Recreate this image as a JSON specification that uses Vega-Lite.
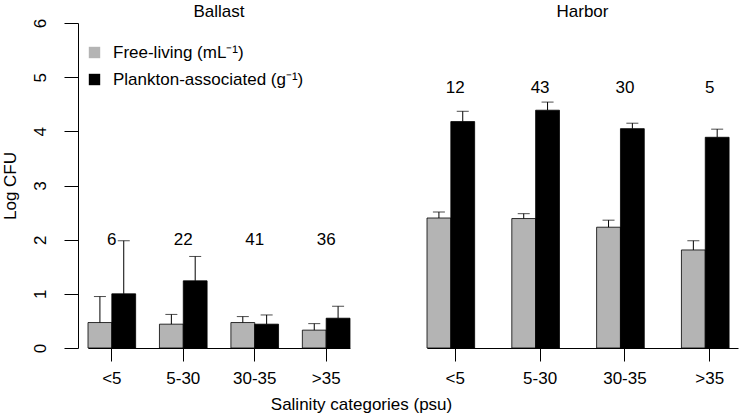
{
  "$schema": "https://vega.github.io/schema/vega-lite/v6.json",
  "padding": {"left": 1, "top": 3, "right": 4, "bottom": 5},
  "bounds": "flush",
  "config": {
    "font": "Liberation Sans",
    "view": {"stroke": null},
    "axis": {"domainColor": "black", "tickColor": "black", "labelColor": "black", "titleColor": "black", "grid": false, "labelFontSize": 17, "titleFontSize": 17, "titleFontWeight": "normal"},
    "title": {"fontSize": 17, "fontWeight": "normal", "color": "black", "anchor": "middle", "frame": "group"}
  },
  "datasets": {
    "bars": [
      {"site": "Ballast", "salinity": "<5", "type": "Free-living (mL⁻¹)", "mean": 0.47, "upper": 0.95},
      {"site": "Ballast", "salinity": "<5", "type": "Plankton-associated (g⁻¹)", "mean": 1.0, "upper": 1.98},
      {"site": "Ballast", "salinity": "5-30", "type": "Free-living (mL⁻¹)", "mean": 0.44, "upper": 0.62},
      {"site": "Ballast", "salinity": "5-30", "type": "Plankton-associated (g⁻¹)", "mean": 1.24, "upper": 1.69},
      {"site": "Ballast", "salinity": "30-35", "type": "Free-living (mL⁻¹)", "mean": 0.47, "upper": 0.58},
      {"site": "Ballast", "salinity": "30-35", "type": "Plankton-associated (g⁻¹)", "mean": 0.44, "upper": 0.61},
      {"site": "Ballast", "salinity": ">35", "type": "Free-living (mL⁻¹)", "mean": 0.33, "upper": 0.45},
      {"site": "Ballast", "salinity": ">35", "type": "Plankton-associated (g⁻¹)", "mean": 0.55, "upper": 0.77},
      {"site": "Harbor", "salinity": "<5", "type": "Free-living (mL⁻¹)", "mean": 2.40, "upper": 2.51},
      {"site": "Harbor", "salinity": "<5", "type": "Plankton-associated (g⁻¹)", "mean": 4.18, "upper": 4.37},
      {"site": "Harbor", "salinity": "5-30", "type": "Free-living (mL⁻¹)", "mean": 2.39, "upper": 2.48},
      {"site": "Harbor", "salinity": "5-30", "type": "Plankton-associated (g⁻¹)", "mean": 4.39, "upper": 4.54},
      {"site": "Harbor", "salinity": "30-35", "type": "Free-living (mL⁻¹)", "mean": 2.23, "upper": 2.36},
      {"site": "Harbor", "salinity": "30-35", "type": "Plankton-associated (g⁻¹)", "mean": 4.05, "upper": 4.15},
      {"site": "Harbor", "salinity": ">35", "type": "Free-living (mL⁻¹)", "mean": 1.81, "upper": 1.98},
      {"site": "Harbor", "salinity": ">35", "type": "Plankton-associated (g⁻¹)", "mean": 3.89, "upper": 4.04}
    ],
    "counts": [
      {"site": "Ballast", "salinity": "<5", "n": "6", "pos": 2.0},
      {"site": "Ballast", "salinity": "5-30", "n": "22", "pos": 2.0},
      {"site": "Ballast", "salinity": "30-35", "n": "41", "pos": 2.0},
      {"site": "Ballast", "salinity": ">35", "n": "36", "pos": 2.0},
      {"site": "Harbor", "salinity": "<5", "n": "12", "pos": 4.8},
      {"site": "Harbor", "salinity": "5-30", "n": "43", "pos": 4.8},
      {"site": "Harbor", "salinity": "30-35", "n": "30", "pos": 4.8},
      {"site": "Harbor", "salinity": ">35", "n": "5", "pos": 4.8}
    ]
  },
  "spacing": 77,
  "hconcat": [
    {
      "title": {"text": "Ballast", "offset": -3},
      "width": 262,
      "height": 325,
      "layer": [
        {
          "data": {"name": "bars"},
          "transform": [{"filter": "datum.site === 'Ballast'"}],
          "mark": {"type": "bar", "stroke": "black", "strokeWidth": 0.8},
          "encoding": {
            "x": {"field": "salinity", "type": "nominal", "sort": ["<5", "5-30", "30-35", ">35"],
                  "scale": {"paddingInner": 0.333, "paddingOuter": 0},
                  "axis": {"labelAngle": 0, "tickSize": 13, "labelPadding": 9, "title": "Salinity categories (psu)", "titleX": 273, "titleY": 61, "titleBaseline": "alphabetic", "titleAnchor": "middle", "titleAlign": "center"}},
            "xOffset": {"field": "type", "type": "nominal", "sort": ["Free-living (mL⁻¹)", "Plankton-associated (g⁻¹)"]},
            "y": {"field": "mean", "type": "quantitative", "scale": {"domain": [0, 6], "nice": false},
                  "axis": {"values": [0, 1, 2, 3, 4, 5, 6], "format": "d", "title": "Log CFU", "offset": 10, "tickSize": 14, "labelAngle": -90, "labelPadding": 15, "titlePadding": 12}},
            "color": {"field": "type", "type": "nominal", "sort": ["Free-living (mL⁻¹)", "Plankton-associated (g⁻¹)"],
                      "scale": {"domain": ["Free-living (mL⁻¹)", "Plankton-associated (g⁻¹)"], "range": ["#b4b4b4", "#000000"]},
                      "legend": {"title": null, "orient": "none", "legendX": -2, "legendY": 21, "symbolType": "square", "symbolSize": 130, "symbolStrokeWidth": 0, "labelFontSize": 17, "labelColor": "black", "labelOffset": 10, "labelLimit": 0, "rowPadding": 9, "padding": 0}}
          }
        },
        {
          "data": {"name": "bars"},
          "transform": [{"filter": "datum.site === 'Ballast'"}],
          "mark": {"type": "rule", "color": "black", "strokeWidth": 1},
          "encoding": {
            "x": {"field": "salinity", "type": "nominal", "sort": ["<5", "5-30", "30-35", ">35"]},
            "xOffset": {"field": "type", "type": "nominal", "sort": ["Free-living (mL⁻¹)", "Plankton-associated (g⁻¹)"]},
            "y": {"field": "mean", "type": "quantitative"},
            "y2": {"field": "upper"}
          }
        },
        {
          "data": {"name": "bars"},
          "transform": [{"filter": "datum.site === 'Ballast'"}],
          "mark": {"type": "tick", "color": "black", "size": 12, "thickness": 1, "orient": "horizontal"},
          "encoding": {
            "x": {"field": "salinity", "type": "nominal", "sort": ["<5", "5-30", "30-35", ">35"]},
            "xOffset": {"field": "type", "type": "nominal", "sort": ["Free-living (mL⁻¹)", "Plankton-associated (g⁻¹)"]},
            "y": {"field": "upper", "type": "quantitative"}
          }
        },
        {
          "data": {"name": "counts"},
          "transform": [{"filter": "datum.site === 'Ballast'"}],
          "mark": {"type": "text", "fontSize": 17, "color": "black", "baseline": "middle"},
          "encoding": {
            "x": {"field": "salinity", "type": "nominal", "sort": ["<5", "5-30", "30-35", ">35"]},
            "y": {"field": "pos", "type": "quantitative"},
            "text": {"field": "n"}
          }
        }
      ]
    },
    {
      "title": {"text": "Harbor", "offset": 2},
      "width": 311,
      "height": 325,
      "layer": [
        {
          "data": {"name": "bars"},
          "transform": [{"filter": "datum.site === 'Harbor'"}],
          "mark": {"type": "bar", "stroke": "black", "strokeWidth": 0.8},
          "encoding": {
            "x": {"field": "salinity", "type": "nominal", "sort": ["<5", "5-30", "30-35", ">35"],
                  "scale": {"paddingInner": 0.333, "paddingOuter": 0},
                  "axis": {"labelAngle": 0, "tickSize": 13, "labelPadding": 9, "title": null}},
            "xOffset": {"field": "type", "type": "nominal", "sort": ["Free-living (mL⁻¹)", "Plankton-associated (g⁻¹)"]},
            "y": {"field": "mean", "type": "quantitative", "scale": {"domain": [0, 6], "nice": false}, "axis": null},
            "color": {"field": "type", "type": "nominal",
                      "scale": {"domain": ["Free-living (mL⁻¹)", "Plankton-associated (g⁻¹)"], "range": ["#b4b4b4", "#000000"]},
                      "legend": null}
          }
        },
        {
          "data": {"name": "bars"},
          "transform": [{"filter": "datum.site === 'Harbor'"}],
          "mark": {"type": "rule", "color": "black", "strokeWidth": 1},
          "encoding": {
            "x": {"field": "salinity", "type": "nominal", "sort": ["<5", "5-30", "30-35", ">35"]},
            "xOffset": {"field": "type", "type": "nominal", "sort": ["Free-living (mL⁻¹)", "Plankton-associated (g⁻¹)"]},
            "y": {"field": "mean", "type": "quantitative"},
            "y2": {"field": "upper"}
          }
        },
        {
          "data": {"name": "bars"},
          "transform": [{"filter": "datum.site === 'Harbor'"}],
          "mark": {"type": "tick", "color": "black", "size": 12, "thickness": 1, "orient": "horizontal"},
          "encoding": {
            "x": {"field": "salinity", "type": "nominal", "sort": ["<5", "5-30", "30-35", ">35"]},
            "xOffset": {"field": "type", "type": "nominal", "sort": ["Free-living (mL⁻¹)", "Plankton-associated (g⁻¹)"]},
            "y": {"field": "upper", "type": "quantitative"}
          }
        },
        {
          "data": {"name": "counts"},
          "transform": [{"filter": "datum.site === 'Harbor'"}],
          "mark": {"type": "text", "fontSize": 17, "color": "black", "baseline": "middle"},
          "encoding": {
            "x": {"field": "salinity", "type": "nominal", "sort": ["<5", "5-30", "30-35", ">35"]},
            "y": {"field": "pos", "type": "quantitative"},
            "text": {"field": "n"}
          }
        }
      ]
    }
  ]
}
